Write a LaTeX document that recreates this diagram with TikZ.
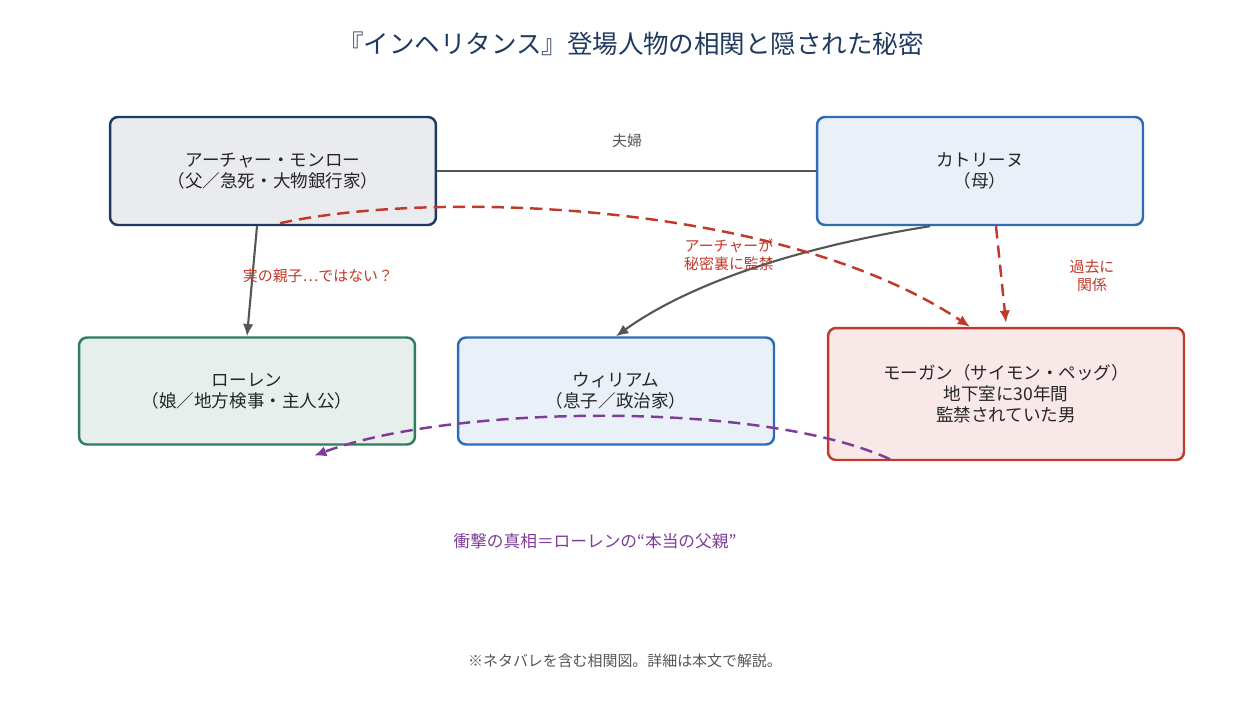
\documentclass[tikz,border=0pt]{standalone}
\usepackage{fontspec}
\setmainfont{Noto Sans CJK JP}
\usetikzlibrary{arrows.meta}
\definecolor{navy}{HTML}{1F3A5F}
\definecolor{kblue}{HTML}{2E6DB4}
\definecolor{kgreen}{HTML}{2E7D5B}
\definecolor{kred}{HTML}{C0392B}
\definecolor{kpurple}{HTML}{7D3C98}
\definecolor{kgray}{HTML}{555555}
\tikzset{
  person/.style={draw, rounded corners=0.16cm, line width=1.4pt, align=center,
    font=\fontsize{10}{12}\selectfont, text=black!85},
  rel/.style={draw=kgray, line width=1.2pt, -{Latex[length=7pt,width=6pt]}},
  secret/.style={draw=kred, line width=1.4pt, dashed, dash pattern=on 7pt off 4pt, -{Latex[length=7pt,width=6pt]}},
  truth/.style={draw=kpurple, line width=1.4pt, dash pattern=on 7pt off 4pt, -{Latex[length=7pt,width=6pt]}},
  lbl/.style={font=\fontsize{8.5}{10}\selectfont, align=center}
}
\begin{document}
\begin{tikzpicture}[x=0.02cm,y=-0.02cm]
\useasboundingbox (0,0) rectangle (1253,724);
% title
\node[text=navy, font=\fontsize{14.5}{16}\selectfont] (title) at (631,44) {『インヘリタンス』登場人物の相関と隠された秘密};
% people
\node[person, draw=navy, fill=navy!10, minimum width=6.52cm, minimum height=2.16cm] (archer) at (273,171) {アーチャー・モンロー\\（父／急死・大物銀行家）};
\node[person, draw=kblue, fill=kblue!10, minimum width=6.52cm, minimum height=2.16cm] (katrine) at (980,171) {カトリーヌ\\（母）};
\node[person, draw=kgreen, fill=kgreen!12, minimum width=6.72cm, minimum height=2.14cm] (lauren) at (247,391) {ローレン\\（娘／地方検事・主人公）};
\node[person, draw=kblue, fill=kblue!10, minimum width=6.32cm, minimum height=2.14cm] (william) at (616,391) {ウィリアム\\（息子／政治家）};
\node[person, draw=kred, fill=kred!11, minimum width=7.12cm, minimum height=2.64cm] (morgan) at (1006,394) {モーガン（サイモン・ペッグ）\\地下室に30年間\\監禁されていた男};
% relations
\draw[kgray, line width=1.2pt] (archer) -- (katrine);
\node[lbl, text=kgray] (couple) at (627,141) {夫婦};
\draw[rel] ([xshift=-0.32cm]archer.south) -- (lauren.north);
\node[lbl, text=kred] (notreal) at (318,276) {実の親子…ではない？};
\draw[rel] ([xshift=-1cm]katrine.south) .. controls (780,250) and (680,290) .. (william.north);
\draw[secret] ([xshift=0.14cm,yshift=0.06cm]archer.south) .. controls (430,190) and (780,200) .. ([xshift=-0.72cm]morgan.north);
\node[lbl, text=kred] (locked) at (729,255) {アーチャーが\\秘密裏に監禁};
\draw[secret] ([xshift=0.32cm]katrine.south) -- ([yshift=0.08cm]morgan.north);
\node[lbl, text=kred] (past) at (1092,276) {過去に\\関係};
\draw[truth] ([xshift=-2.32cm,yshift=0.04cm]morgan.south) .. controls (760,400) and (450,405) .. ([xshift=1.34cm,yshift=-0.2cm]lauren.south);
\node[text=kpurple, font=\fontsize{9.5}{11}\selectfont] (truthlbl) at (595,541) {衝撃の真相＝ローレンの“本当の父親”};
% note
\node[lbl, text=kgray] (note) at (625,661) {※ネタバレを含む相関図。詳細は本文で解説。};
\end{tikzpicture}
\end{document}
